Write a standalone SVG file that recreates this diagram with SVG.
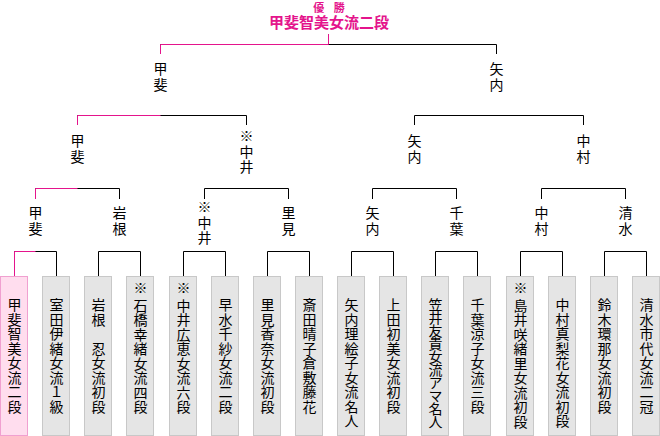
<svg xmlns="http://www.w3.org/2000/svg" width="660" height="436" viewBox="0 0 660 436">
<style>
.t{font-family:"Noto Sans CJK JP","Noto Sans CJK SC",sans-serif;fill:#000}
.v{writing-mode:vertical-rl;font-size:14px;letter-spacing:0.5px}
.lb{writing-mode:vertical-rl;font-size:14px;letter-spacing:1.5px}
.box{fill:#e5e5e5;stroke:#c8c8c8;stroke-width:1}
.win{fill:#ffddee;stroke:#f0a0d0;stroke-width:1}
.ln{fill:none;stroke:#000;stroke-width:1}
.pk{fill:none;stroke:#e4148c;stroke-width:1}
.title{font-family:"Noto Sans CJK JP",sans-serif;fill:#e4148c;font-weight:bold;text-anchor:middle}
</style>
<rect width="660" height="436" fill="#fff"/>
<g id="title">
<text class="title" x="329" y="12" font-size="11" word-spacing="7">優 勝</text>
<text class="title" x="329" y="28" font-size="15">甲斐智美女流二段</text>
</g>
<g id="connectors">
<path class="ln" d="M14.5 276V251.5H56.5V276M98.5 276V251.5H140.5V276M183.5 276V251.5H225.5V276M267.5 276V251.5H309.5V276M351.5 276V251.5H393.5V276M435.5 276V251.5H477.5V276M520.5 276V251.5H562.5V276M604.5 276V251.5H646.5V276"/>
<path class="ln" d="M35.5 199V188.5H119.5V199M204.5 199V188.5H288.5V199M372.5 199V188.5H456.5V199M541.5 199V188.5H625.5V199"/>
<path class="ln" d="M77.5 125V115.5H246.5V125M414.5 125V115.5H583.5V125"/>
<path class="ln" d="M160.5 54V44.5H496.5V54"/>
<path class="pk" d="M14.5 276V251.5H35.5"/>
<path class="pk" d="M35.5 199V188.5H77.5"/>
<path class="pk" d="M77.5 125V115.5H160.5"/>
<path class="pk" d="M160.5 54V44.5H328.5V34"/>
</g>
<g id="labels">
<text class="t lb" x="160.5" y="62">甲斐</text>
<text class="t lb" x="496.5" y="62">矢内</text>
<text class="t lb" x="77.5" y="134">甲斐</text>
<text class="t lb" x="246.5" y="129">※中井</text>
<text class="t lb" x="414.5" y="134">矢内</text>
<text class="t lb" x="583.5" y="134">中村</text>
<text class="t lb" x="35.5" y="206">甲斐</text>
<text class="t lb" x="119.5" y="206">岩根</text>
<text class="t lb" x="204.5" y="200">※中井</text>
<text class="t lb" x="288.5" y="206">里見</text>
<text class="t lb" x="372.5" y="206">矢内</text>
<text class="t lb" x="456.5" y="206">千葉</text>
<text class="t lb" x="541.5" y="206">中村</text>
<text class="t lb" x="625.5" y="206">清水</text>
</g>
<g id="p1"><rect class="win" x="0.5" y="276.5" width="27" height="159"/><text class="t v" x="14.5" y="298">甲斐智美女流二段</text></g>
<g id="p2"><rect class="box" x="42.5" y="276.5" width="27" height="159"/><text class="t v" x="56.5" y="298">室田伊緒女流１級</text></g>
<g id="p3"><rect class="box" x="84.5" y="276.5" width="27" height="159"/><text class="t v" x="98.5" y="298">岩根　忍女流初段</text></g>
<g id="p4"><rect class="box" x="126.5" y="276.5" width="27" height="159"/><text class="t v" x="140.5" y="281">※<tspan dy="2.5">石橋幸緒女流四段</tspan></text></g>
<g id="p5"><rect class="box" x="169.5" y="276.5" width="27" height="159"/><text class="t v" x="183.5" y="281">※<tspan dy="2.5">中井広恵女流六段</tspan></text></g>
<g id="p6"><rect class="box" x="211.5" y="276.5" width="27" height="159"/><text class="t v" x="225.5" y="298">早水千紗女流二段</text></g>
<g id="p7"><rect class="box" x="253.5" y="276.5" width="27" height="159"/><text class="t v" x="267.5" y="298">里見香奈女流初段</text></g>
<g id="p8"><rect class="box" x="295.5" y="276.5" width="27" height="159"/><text class="t v" x="309.5" y="298">斎田晴子倉敷藤花</text></g>
<g id="p9"><rect class="box" x="337.5" y="276.5" width="27" height="159"/><text class="t v" x="351.5" y="298">矢内理絵子女流名人</text></g>
<g id="p10"><rect class="box" x="379.5" y="276.5" width="27" height="159"/><text class="t v" x="393.5" y="298">上田初美女流初段</text></g>
<g id="p11"><rect class="box" x="421.5" y="276.5" width="27" height="159"/><text class="t v" x="435.5" y="298" style="letter-spacing:-1px">笠井友貴女流アマ名人</text></g>
<g id="p12"><rect class="box" x="463.5" y="276.5" width="27" height="159"/><text class="t v" x="477.5" y="298">千葉涼子女流三段</text></g>
<g id="p13"><rect class="box" x="506.5" y="276.5" width="27" height="159"/><text class="t v" x="520.5" y="281">※<tspan dy="2.5">島井咲緒里女流初段</tspan></text></g>
<g id="p14"><rect class="box" x="548.5" y="276.5" width="27" height="159"/><text class="t v" x="562.5" y="298">中村真梨花女流初段</text></g>
<g id="p15"><rect class="box" x="590.5" y="276.5" width="27" height="159"/><text class="t v" x="604.5" y="298">鈴木環那女流初段</text></g>
<g id="p16"><rect class="box" x="632.5" y="276.5" width="27" height="159"/><text class="t v" x="646.5" y="298">清水市代女流二冠</text></g>
</svg>
